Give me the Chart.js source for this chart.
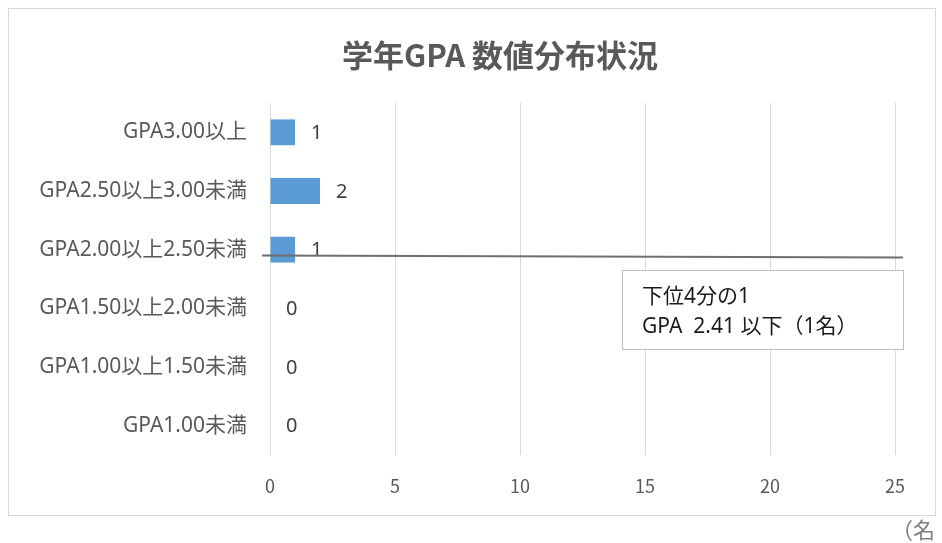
<!DOCTYPE html>
<html lang="ja">
<head>
<meta charset="utf-8">
<script src="https://cdn.jsdelivr.net/npm/chart.js@4/dist/chart.umd.min.js"></script>
<style>
  html, body { margin: 0; padding: 0; background: #fff; }
  canvas { display: block; }
</style>
</head>
<body>
<canvas id="gpaChart" width="942" height="543"></canvas>
<script>
// ===============================
// Data
// ===============================
const categories = [
  "GPA3.00以上",
  "GPA2.50以上3.00未満",
  "GPA2.00以上2.50未満",
  "GPA1.50以上2.00未満",
  "GPA1.00以上1.50未満",
  "GPA1.00未満"
];
const counts = [1, 2, 1, 0, 0, 0];
const xTicks = [0, 5, 10, 15, 20, 25];
const titleText = "学年GPA 数値分布状況";
const noteLines = ["下位4分の1", "GPA  2.41 以下（1名）"];
const unitText = "（名）";
const cutoffRow = 2.1; // GPA 2.41 falls just below the middle of the 2.00-2.50 row

const JP = '"Noto Sans CJK JP", "Noto Sans", sans-serif';
const MIX = '"Noto Sans", "Noto Sans CJK JP", sans-serif';

// ===============================
// Extra drawing: frame, title, labels, cutoff line, note box
// ===============================
const decorations = {
  id: "decorations",
  beforeDraw(chart) {
    const ctx = chart.ctx;
    ctx.save();
    ctx.fillStyle = "#fff";
    ctx.fillRect(0, 0, chart.width, chart.height);
    ctx.strokeStyle = "#d9d9d9";
    ctx.lineWidth = 1;
    ctx.strokeRect(8.5, 8.5, 927, 507);
    ctx.fillStyle = "#595959";
    ctx.font = "bold 31px " + JP;
    ctx.textAlign = "center";
    ctx.textBaseline = "middle";
    ctx.fillText(titleText, 500, 55);
    ctx.restore();
  },
  afterDatasetsDraw(chart) {
    const ctx = chart.ctx;
    const meta = chart.getDatasetMeta(0);
    const area = chart.chartArea;
    const y = chart.scales.y;
    ctx.save();

    // value labels
    ctx.fillStyle = "#404040";
    ctx.font = "20px " + MIX;
    ctx.textAlign = "left";
    ctx.textBaseline = "middle";
    meta.data.forEach((bar, i) => {
      ctx.fillText(String(counts[i]), bar.x + 16, bar.y + 1);
    });

    // cutoff line
    const ly = y.getPixelForValue(cutoffRow);
    ctx.strokeStyle = "#6f6f6f";
    ctx.lineWidth = 2;
    ctx.beginPath();
    ctx.moveTo(area.left - 8, ly);
    ctx.lineTo(area.right + 8, ly + 2);
    ctx.stroke();

    // note box
    const bx = 622.5, by = 270.5, bw = 281, bh = 79;
    ctx.fillStyle = "#fff";
    ctx.fillRect(bx, by, bw, bh);
    ctx.strokeStyle = "#bfbfbf";
    ctx.lineWidth = 1;
    ctx.strokeRect(bx, by, bw, bh);
    ctx.fillStyle = "#1a1a1a";
    ctx.font = "21px " + MIX;
    ctx.fillText(noteLines[0], 642, 297);
    ctx.fillText(noteLines[1], 642, 327);

    // unit label, clipped at the right like the original
    ctx.beginPath();
    ctx.rect(0, 0, 935, chart.height);
    ctx.clip();
    ctx.fillStyle = "#7f7f7f";
    ctx.font = "22px " + JP;
    ctx.fillText(unitText, 891, 530);
    ctx.restore();
  }
};

// ===============================
// Chart
// ===============================
new Chart(document.getElementById("gpaChart"), {
  type: "bar",
  data: {
    labels: categories,
    datasets: [{
      data: counts,
      backgroundColor: "#5b9bd5",
      borderWidth: 0,
      categoryPercentage: 1,
      barPercentage: 0.44
    }]
  },
  options: {
    indexAxis: "y",
    responsive: false,
    animation: false,
    layout: { padding: { top: 103, right: 47, bottom: 0, left: 0 } },
    plugins: {
      legend: { display: false },
      tooltip: { enabled: false },
      title: { display: false }
    },
    scales: {
      x: {
        min: xTicks[0],
        max: xTicks[xTicks.length - 1],
        afterFit(scale) { scale.height = 88; },
        grid: { color: "#d9d9d9", lineWidth: 1, drawTicks: false },
        border: { display: false },
        ticks: {
          stepSize: xTicks[1] - xTicks[0],
          padding: 20,
          color: "#595959",
          font: { family: JP, size: 18 }
        }
      },
      y: {
        afterFit(scale) { scale.width = 270; },
        grid: { display: false, drawTicks: false },
        border: { display: true, color: "#d9d9d9", width: 1 },
        ticks: {
          padding: 23,
          color: "#595959",
          font: { family: MIX, size: 21 }
        }
      }
    }
  },
  plugins: [decorations]
});
</script>
</body>
</html>
